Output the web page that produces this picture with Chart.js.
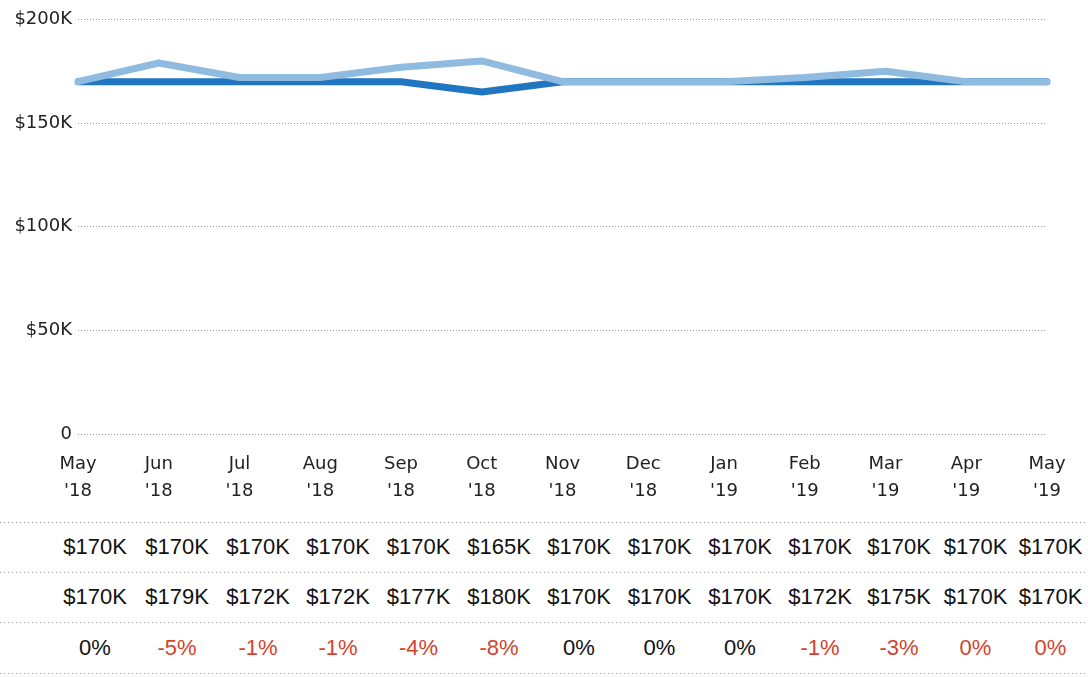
<!DOCTYPE html>
<html>
<head>
<meta charset="utf-8">
<script src="https://cdn.jsdelivr.net/npm/chart.js@4"></script>
<style>
  body { margin: 0; width: 1088px; height: 677px; overflow: hidden; background: #fff; }
  #wrap { position: absolute; left: 0; top: 0; width: 1088px; height: 510px; }
  #table { position: absolute; left: 0; top: 522px; width: 1088px; font-family: "Liberation Sans", Arial, sans-serif; font-size: 22px; color: #111; }
  .row { display: flex; height: 50px; align-items: center; padding-left: 54px;
    background-image: linear-gradient(to right, #999 1px, transparent 1px);
    background-size: 4px 1px; background-repeat: repeat-x; background-position: 0 0; }
  .row.last { height: 51px; }
  .cell { text-align: center; white-space: nowrap; }
  #endline { height: 1px; background-image: linear-gradient(to right, #999 1px, transparent 1px); background-size: 4px 1px; }
</style>
</head>
<body>
<div id="wrap"><canvas id="myChart"></canvas></div>
<div id="table"></div>
<script>
// data
const months = ['May', 'Jun', 'Jul', 'Aug', 'Sep', 'Oct', 'Nov', 'Dec', 'Jan', 'Feb', 'Mar', 'Apr', 'May'];
const years = ["'18", "'18", "'18", "'18", "'18", "'18", "'18", "'18", "'19", "'19", "'19", "'19", "'19"];
const actual = [170, 170, 170, 170, 170, 165, 170, 170, 170, 170, 170, 170, 170]; // $K
const target = [170, 179, 172, 172, 177, 180, 170, 170, 170, 172, 175, 170, 170]; // $K
const pctText = ['0%', '-5%', '-1%', '-1%', '-4%', '-8%', '0%', '0%', '0%', '-1%', '-3%', '0%', '0%'];
const pctRed = [false, true, true, true, true, true, false, false, false, true, true, true, true];
const yTicks = [0, 50000, 100000, 150000, 200000];

// table column widths (layout only)
const colWidths = [82, 82, 80, 80, 81, 80, 80, 81, 80, 80, 78, 75, 75];

const axisFont = { family: 'Tahoma, "DejaVu Sans", sans-serif', size: 18, lineHeight: 1.5 };

const ctx = document.getElementById('myChart').getContext('2d');
new Chart(ctx, {
  type: 'line',
  data: {
    labels: months.map((m, i) => [m, years[i]]),
    datasets: [
      {
        data: target.map((v) => v * 1000),
        borderColor: '#8fbbe1',
        borderWidth: 7,
        order: 0,
      },
      {
        data: actual.map((v) => v * 1000),
        borderColor: '#2076c1',
        borderWidth: 7,
        order: 1,
      },
    ],
  },
  options: {
    responsive: true,
    maintainAspectRatio: false,
    animation: false,
    layout: { padding: { top: 18, right: 41, left: 0, bottom: 0 } },
    elements: {
      point: { radius: 0 },
      line: { tension: 0, borderCapStyle: 'round', borderJoinStyle: 'round' },
    },
    plugins: { legend: { display: false }, tooltip: { enabled: false } },
    scales: {
      x: {
        grid: { display: false },
        border: { display: false },
        ticks: { color: '#222', font: axisFont, maxRotation: 0, autoSkip: false, padding: 9 },
        afterFit: (scale) => { scale.height = 76; },
      },
      y: {
        min: 0,
        max: 200000,
        afterBuildTicks: (scale) => { scale.ticks = yTicks.map((v) => ({ value: v })); },
        grid: { color: '#9a9a9a', lineWidth: 1, drawTicks: false },
        border: { display: false, dash: [1, 2] },
        ticks: {
          color: '#222',
          font: axisFont,
          padding: 6,
          callback: (v) => v === 0 ? '0' : '$' + (v / 1000) + 'K',
        },
        afterFit: (scale) => { scale.width = 78; },
      },
    },
  },
});

// table below the chart
const table = document.getElementById('table');
const rows = [
  actual.map((v) => ({ text: '$' + v + 'K', color: '#111' })),
  target.map((v) => ({ text: '$' + v + 'K', color: '#111' })),
  pctText.map((t, i) => ({ text: t, color: pctRed[i] ? '#d2432d' : '#111' })),
];
rows.forEach((r, ri) => {
  const row = document.createElement('div');
  row.className = 'row' + (ri === rows.length - 1 ? ' last' : '');
  r.forEach((c, i) => {
    const cell = document.createElement('div');
    cell.className = 'cell';
    cell.style.width = colWidths[i] + 'px';
    cell.style.color = c.color;
    cell.textContent = c.text;
    row.appendChild(cell);
  });
  table.appendChild(row);
});
const end = document.createElement('div');
end.id = 'endline';
table.appendChild(end);
</script>
</body>
</html>
